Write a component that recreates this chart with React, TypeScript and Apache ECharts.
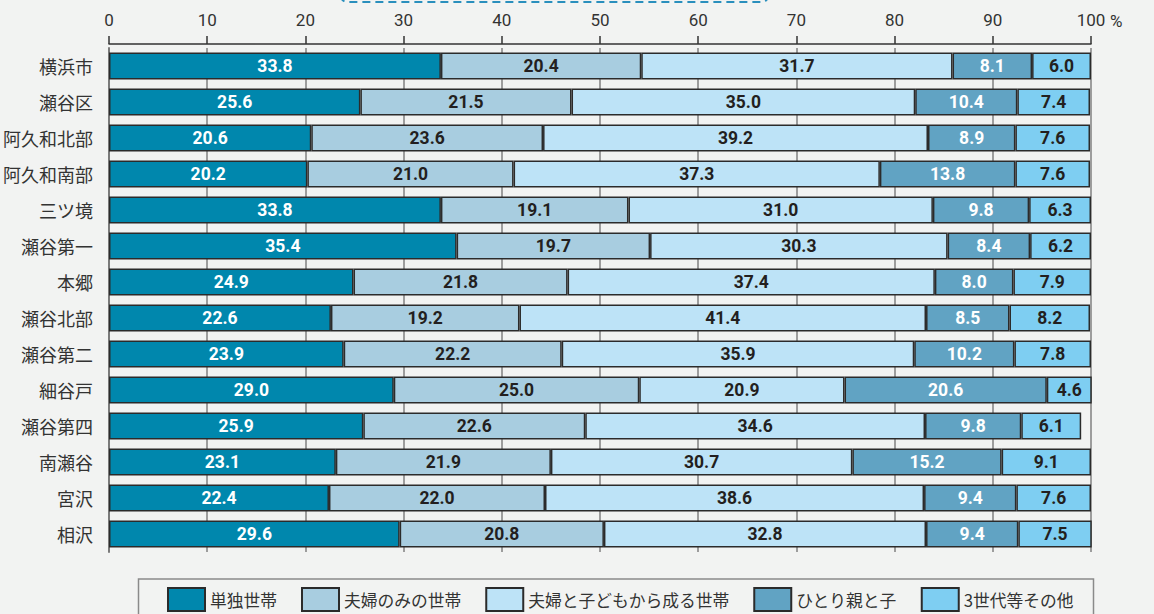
import React, { useEffect, useRef } from "react";
import * as echarts from "echarts";

// Household composition by district (%)
const districts = [
  "横浜市", "瀬谷区", "阿久和北部", "阿久和南部", "三ツ境", "瀬谷第一", "本郷",
  "瀬谷北部", "瀬谷第二", "細谷戸", "瀬谷第四", "南瀬谷", "宮沢", "相沢",
];

const seriesNames = ["単独世帯", "夫婦のみの世帯", "夫婦と子どもから成る世帯", "ひとり親と子", "3世代等その他"];

const single = [33.8, 25.6, 20.6, 20.2, 33.8, 35.4, 24.9, 22.6, 23.9, 29.0, 25.9, 23.1, 22.4, 29.6];
const coupleOnly = [20.4, 21.5, 23.6, 21.0, 19.1, 19.7, 21.8, 19.2, 22.2, 25.0, 22.6, 21.9, 22.0, 20.8];
const coupleWithChildren = [31.7, 35.0, 39.2, 37.3, 31.0, 30.3, 37.4, 41.4, 35.9, 20.9, 34.6, 30.7, 38.6, 32.8];
const singleParent = [8.1, 10.4, 8.9, 13.8, 9.8, 8.4, 8.0, 8.5, 10.2, 20.6, 9.8, 15.2, 9.4, 9.4];
const threeGenOther = [6.0, 7.4, 7.6, 7.6, 6.3, 6.2, 7.9, 8.2, 7.8, 4.6, 6.1, 9.1, 7.6, 7.5];

const seriesValues = [single, coupleOnly, coupleWithChildren, singleParent, threeGenOther];
const seriesColors = ["#0087ad", "#a8cde0", "#bde3f7", "#61a3c3", "#7ecef2"];
const labelColors = ["#ffffff", "#231f20", "#231f20", "#ffffff", "#231f20"];

const BG = "#f2f3f2";

export default function App() {
  const ref = useRef<HTMLDivElement>(null);

  useEffect(() => {
    document.body.style.margin = "0";
    document.body.style.background = BG;
    if (!ref.current) return;
    const chart = echarts.init(ref.current, undefined, { renderer: "svg" });

    const series = seriesNames.map((name, i) => ({
      name,
      type: "bar" as const,
      stack: "total",
      barWidth: 27,
      data: seriesValues[i],
      itemStyle: {
        color: seriesColors[i],
        borderColor: "#2b2b2b",
        borderWidth: 1.5,
      },
      label: {
        show: true,
        position: "inside" as const,
        formatter: (p: any) => Number(p.value).toFixed(1),
        color: labelColors[i],
        fontFamily: "Roboto, 'Noto Sans', sans-serif",
        fontWeight: "bold" as const,
        fontSize: 17.5,
      },
      emphasis: { disabled: true },
    }));

    chart.setOption({
      animation: false,
      backgroundColor: BG,
      grid: { left: 107, right: 63, top: 48, bottom: 62 },
      xAxis: {
        type: "value",
        position: "top",
        min: 0,
        max: 100,
        interval: 10,
        offset: 4,
        axisLine: { show: true, lineStyle: { color: "#333333", width: 1.5 } },
        axisTick: { show: true, length: 8, lineStyle: { color: "#333333", width: 1.5 } },
        axisLabel: {
          color: "#333333",
          fontSize: 17,
          fontFamily: "Roboto, 'Noto Sans', sans-serif",
          margin: 16,
        },
        splitLine: { show: true, lineStyle: { color: "#808080", width: 1.5 } },
      },
      yAxis: {
        type: "category",
        inverse: true,
        data: districts,
        axisLine: { show: true, lineStyle: { color: "#7a7a7a", width: 2 } },
        axisTick: { show: false },
        axisLabel: {
          color: "#333333",
          fontSize: 18,
          fontFamily: "'Noto Sans CJK JP', sans-serif",
          margin: 16,
        },
      },
      legend: {
        data: seriesNames,
        left: 167,
        top: 587,
        padding: 0,
        itemWidth: 37,
        itemHeight: 23,
        itemGap: 24,
        icon: "rect",
        textStyle: {
          color: "#333333",
          fontSize: 16.75,
          fontFamily: "'Noto Sans CJK JP', sans-serif",
        },
        selectedMode: false,
      },
      graphic: [
        {
          type: "text",
          left: 1110,
          top: 12,
          style: {
            text: "%",
            fill: "#333333",
            fontSize: 17,
            fontFamily: "Roboto, 'Noto Sans', sans-serif",
          },
        },
        {
          type: "rect",
          shape: { x: 341, y: -30, width: 427, height: 32, r: 6 },
          style: { fill: "none", stroke: "#2a8fbd", lineWidth: 2, lineDash: [8, 5] },
          silent: true,
        },
        {
          type: "rect",
          shape: { x: 138.5, y: 579, width: 955, height: 60 },
          style: { fill: "none", stroke: "#8a8a8a", lineWidth: 1.5 },
          silent: true,
          z: -1,
        },
      ],
      series,
    });

    return () => chart.dispose();
  }, []);

  return <div ref={ref} style={{ width: 1154, height: 614, background: BG }} />;
}
